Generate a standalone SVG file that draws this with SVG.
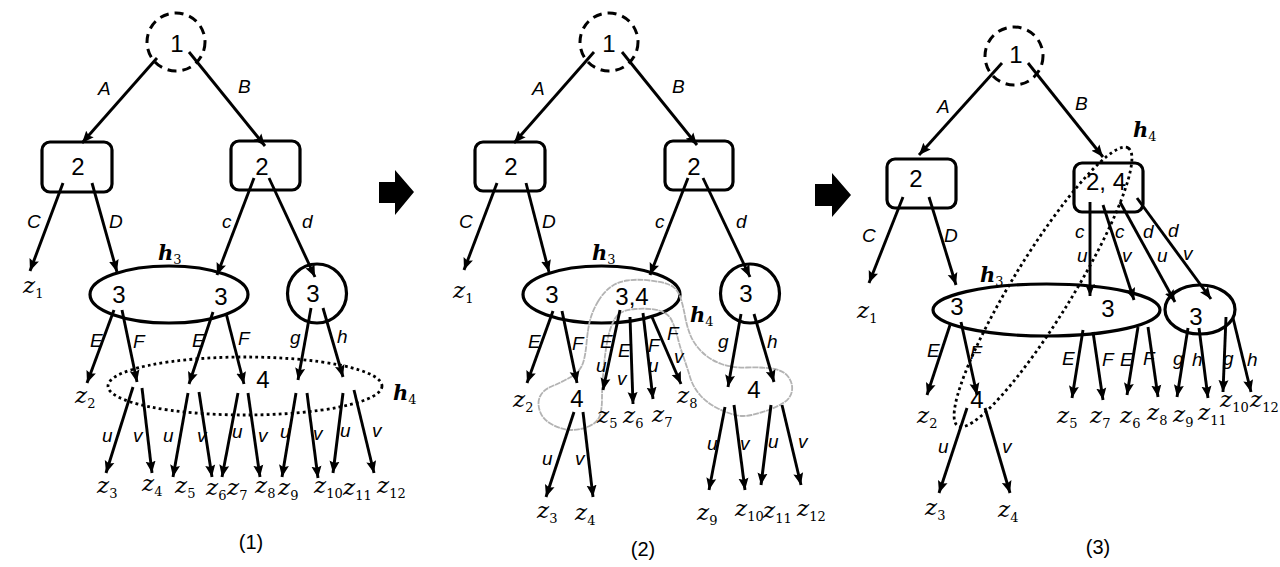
<svg xmlns="http://www.w3.org/2000/svg" width="1280" height="567" viewBox="0 0 1280 567">
<style>
.bg{fill:#fff}
.s{fill:none;stroke:#000;stroke-width:3.2}
.dash{fill:none;stroke:#000;stroke-width:3;stroke-dasharray:9 6}
.dot{fill:none;stroke:#000;stroke-width:2.8;stroke-dasharray:2.8 3.2}
.gray{fill:none;stroke:#b3b3b3;stroke-width:1.8;stroke-linejoin:round;stroke-dasharray:6 0.8}
.e line,.e{stroke:#000;stroke-width:2.9;fill:none}
.num{font-family:"Liberation Sans",Arial,sans-serif;font-size:24px;text-anchor:middle;fill:#000}
.lb{font-family:"Liberation Sans",Arial,sans-serif;font-style:italic;font-size:19px;fill:#000}
.z{font-family:"DejaVu Serif",serif;font-style:italic;font-size:23px;fill:#000}
.h{font-family:"DejaVu Serif",serif;font-style:italic;font-weight:bold;font-size:21px;fill:#000}
.sb{font-style:normal;font-weight:normal;font-size:13px}
.cap{font-family:"Liberation Sans",Arial,sans-serif;font-size:20px;text-anchor:middle;fill:#000}
</style>
<defs>
<marker id="ah" markerUnits="userSpaceOnUse" markerWidth="13" markerHeight="11" refX="12" refY="5.5" orient="auto">
<path d="M0,0.5 L12,5.5 L0,10.5 L2,5.5 Z" fill="#000"/>
</marker>
</defs>
<rect class="bg" x="0" y="0" width="1280" height="567"/>

<!-- ===== Panel 1 ===== -->
<g id="p1-n1"><circle class="dash" cx="176" cy="42" r="29"/><text class="num" x="177" y="52">1</text></g>
<g id="p1-n2a"><rect class="s" x="42" y="142" width="70" height="50" rx="8"/><text class="num" x="78" y="175">2</text></g>
<g id="p1-n2b"><rect class="s" x="231" y="141" width="69" height="49" rx="8"/><text class="num" x="262" y="175">2</text></g>
<g id="p1-n3a"><ellipse class="s" cx="169" cy="294.5" rx="79" ry="28.5"/><text class="num" x="119" y="303">3</text><text class="num" x="221" y="305">3</text></g>
<g id="p1-n3b"><circle class="s" cx="317" cy="293.5" r="29.5"/><text class="num" x="313" y="302">3</text></g>
<g id="p1-n4"><text class="num" x="263" y="388">4</text></g>
<g id="p1-h4"><ellipse class="dot" cx="245" cy="386" rx="137" ry="29"/></g>

<!-- ===== Panel 2 ===== -->
<g id="p2-n1"><circle class="dash" cx="609" cy="42" r="29"/><text class="num" x="609" y="52">1</text></g>
<g id="p2-n2a"><rect class="s" x="475" y="142" width="70" height="49" rx="8"/><text class="num" x="511" y="175">2</text></g>
<g id="p2-n2b"><rect class="s" x="665" y="141" width="68" height="49" rx="8"/><text class="num" x="694" y="175">2</text></g>
<g id="p2-n3a"><ellipse class="s" cx="601.5" cy="294.5" rx="78.5" ry="28.5"/><text class="num" x="552" y="303">3</text><text class="num" x="632" y="305">3,4</text></g>
<g id="p2-n3b"><circle class="s" cx="750" cy="293.5" r="29.5"/><text class="num" x="746" y="302">3</text></g>
<g id="p2-n4a"><text class="num" x="577" y="407">4</text></g>
<g id="p2-n4b"><text class="num" x="754" y="398">4</text></g>
<g id="p2-h4"><path class="gray" d="M598,301.5 Q603,293 610,287.5 Q617,282 627,280.5 Q637,279 650,280.5 Q663,282 670,285 Q677,288 680,296.5 Q683,305 685,316 Q687,327 690.5,335.5 Q694,344 702,352 Q710,360 721.5,364 Q733,368 746.5,367.5 Q760,367 771.5,368.5 Q783,370 788,376.5 Q793,383 792,390.5 Q791,398 784,402.5 Q777,407 768.5,410 Q760,413 751.5,415 Q743,417 735,415 Q727,413 717,408 Q707,403 700,395 Q693,387 690,377 Q687,367 683.5,357 Q680,347 677.5,337 Q675,327 671.5,320 Q668,313 659,310.5 Q650,308 635,309 Q620,310 615,318.5 Q610,327 607.5,340 Q605,353 603.5,370 Q602,387 602,398.5 Q602,410 599.5,416.5 Q597,423 588.5,426.5 Q580,430 571.5,430 Q563,430 553,425 Q543,420 540,411.5 Q537,403 540,396.5 Q543,390 551.5,386.5 Q560,383 569,378 Q578,373 581.5,366.5 Q585,360 586.5,343.5 Q588,327 590.5,318.5 Q593,310 598,301.5 Z"/></g>

<!-- ===== Panel 3 ===== -->
<g id="p3-n1"><circle class="dash" cx="1014" cy="56" r="29"/><text class="num" x="1016" y="63">1</text></g>
<g id="p3-n2a"><rect class="s" x="887" y="159" width="69" height="49" rx="8"/><text class="num" x="916" y="187">2</text></g>
<g id="p3-n24"><rect class="s" x="1074" y="163" width="69" height="49" rx="8"/><text class="num" x="1106" y="190">2, 4</text></g>
<g id="p3-n3a"><ellipse class="s" cx="1046.5" cy="310" rx="113.5" ry="26"/><text class="num" x="957" y="315">3</text><text class="num" x="1108" y="317">3</text></g>
<g id="p3-n3b"><ellipse class="s" cx="1200" cy="309.5" rx="35" ry="24.5"/><text class="num" x="1196" y="325">3</text></g>
<g id="p3-n4"><text class="num" x="977" y="408">4</text></g>
<g id="p3-h4"><ellipse class="dot" cx="1043" cy="287" rx="163" ry="30" transform="rotate(-58.5 1043 287)"/></g>

<!-- block arrows -->
<g id="step-arrows">
<polygon points="379,182 395,182 395,170 414,192 395,215 395,203 379,203" fill="#000"/>
<polygon points="815,184 832,184 832,173 851,195 832,217 832,206 815,206" fill="#000"/>
</g>

<!-- ===== Connectors ===== -->
<g id="connectors" class="e">
<!-- panel 1 -->
<line x1="157" y1="58" x2="82" y2="143" marker-end="url(#ah)"/>
<line x1="189" y1="52" x2="265" y2="146" marker-end="url(#ah)"/>
<line x1="63" y1="183" x2="30" y2="271" marker-end="url(#ah)"/>
<line x1="92" y1="183" x2="117" y2="272" marker-end="url(#ah)"/>
<line x1="254" y1="178" x2="217" y2="275" marker-end="url(#ah)"/>
<line x1="269" y1="178" x2="315" y2="277" marker-end="url(#ah)"/>
<line x1="114" y1="310" x2="87" y2="383" marker-end="url(#ah)"/>
<line x1="122" y1="310" x2="137" y2="382" marker-end="url(#ah)"/>
<line x1="213" y1="312" x2="189" y2="384" marker-end="url(#ah)"/>
<line x1="226" y1="313" x2="244" y2="384" marker-end="url(#ah)"/>
<line x1="311" y1="308" x2="298" y2="380" marker-end="url(#ah)"/>
<line x1="323" y1="308" x2="343" y2="377" marker-end="url(#ah)"/>
<line x1="133" y1="387" x2="106" y2="473" marker-end="url(#ah)"/>
<line x1="142" y1="388" x2="152" y2="473" marker-end="url(#ah)"/>
<line x1="188" y1="393" x2="173" y2="477" marker-end="url(#ah)"/>
<line x1="199" y1="392" x2="212" y2="477" marker-end="url(#ah)"/>
<line x1="238" y1="393" x2="222" y2="477" marker-end="url(#ah)"/>
<line x1="248" y1="393" x2="260" y2="477" marker-end="url(#ah)"/>
<line x1="296" y1="393" x2="282" y2="477" marker-end="url(#ah)"/>
<line x1="307" y1="393" x2="318" y2="478" marker-end="url(#ah)"/>
<line x1="343" y1="393" x2="333" y2="473" marker-end="url(#ah)"/>
<line x1="354" y1="390" x2="374" y2="473" marker-end="url(#ah)"/>
<!-- panel 2 -->
<line x1="594" y1="52" x2="514" y2="143" marker-end="url(#ah)"/>
<line x1="622" y1="52" x2="697" y2="145" marker-end="url(#ah)"/>
<line x1="497" y1="183" x2="464" y2="270" marker-end="url(#ah)"/>
<line x1="526" y1="183" x2="549" y2="272" marker-end="url(#ah)"/>
<line x1="688" y1="178" x2="650" y2="275" marker-end="url(#ah)"/>
<line x1="703" y1="178" x2="750" y2="277" marker-end="url(#ah)"/>
<line x1="553" y1="311" x2="527" y2="383" marker-end="url(#ah)"/>
<line x1="562" y1="311" x2="577" y2="383" marker-end="url(#ah)"/>
<line x1="620" y1="310" x2="603" y2="390" marker-end="url(#ah)"/>
<line x1="630" y1="317" x2="633" y2="404" marker-end="url(#ah)"/>
<line x1="643" y1="313" x2="653" y2="399" marker-end="url(#ah)"/>
<line x1="652" y1="317" x2="681" y2="384" marker-end="url(#ah)"/>
<line x1="741" y1="314" x2="728" y2="387" marker-end="url(#ah)"/>
<line x1="754" y1="314" x2="774" y2="382" marker-end="url(#ah)"/>
<line x1="574" y1="412" x2="546" y2="497" marker-end="url(#ah)"/>
<line x1="583" y1="412" x2="593" y2="497" marker-end="url(#ah)"/>
<line x1="725" y1="407" x2="709" y2="490" marker-end="url(#ah)"/>
<line x1="734" y1="405" x2="745" y2="490" marker-end="url(#ah)"/>
<line x1="771" y1="405" x2="761" y2="485" marker-end="url(#ah)"/>
<line x1="782" y1="405" x2="801" y2="485" marker-end="url(#ah)"/>
<!-- panel 3 -->
<line x1="1002" y1="63" x2="919" y2="155" marker-end="url(#ah)"/>
<line x1="1028" y1="63" x2="1103" y2="157" marker-end="url(#ah)"/>
<line x1="903" y1="197" x2="869" y2="283" marker-end="url(#ah)"/>
<line x1="929" y1="197" x2="956" y2="285" marker-end="url(#ah)"/>
<line x1="1090" y1="202" x2="1090" y2="296" marker-end="url(#ah)"/>
<line x1="1103" y1="205" x2="1134" y2="300" marker-end="url(#ah)"/>
<line x1="1120" y1="202" x2="1175" y2="302" marker-end="url(#ah)"/>
<line x1="1137" y1="198" x2="1211" y2="299" marker-end="url(#ah)"/>
<line x1="950" y1="325" x2="927" y2="395" marker-end="url(#ah)"/>
<line x1="961" y1="322" x2="977" y2="395" marker-end="url(#ah)"/>
<line x1="967" y1="408" x2="939" y2="493" marker-end="url(#ah)"/>
<line x1="985" y1="408" x2="1010" y2="493" marker-end="url(#ah)"/>
<line x1="1083" y1="330" x2="1072" y2="398" marker-end="url(#ah)"/>
<line x1="1093" y1="332" x2="1103" y2="400" marker-end="url(#ah)"/>
<line x1="1138" y1="327" x2="1127" y2="395" marker-end="url(#ah)"/>
<line x1="1148" y1="327" x2="1158" y2="397" marker-end="url(#ah)"/>
<line x1="1188" y1="328" x2="1177" y2="397" marker-end="url(#ah)"/>
<line x1="1199" y1="328" x2="1208" y2="398" marker-end="url(#ah)"/>
<line x1="1226" y1="317" x2="1223" y2="392" marker-end="url(#ah)"/>
<line x1="1233" y1="318" x2="1251" y2="392" marker-end="url(#ah)"/>
</g>

<!-- edge labels -->
<g id="edge-labels" class="lb">
<text x="98" y="95">A</text><text x="238" y="93">B</text>
<text x="27" y="228">C</text><text x="109" y="228">D</text>
<text x="222" y="228">c</text><text x="302" y="228">d</text>
<text x="90" y="347">E</text><text x="133" y="348">F</text>
<text x="192" y="347">E</text><text x="238" y="345">F</text>
<text x="290" y="344">g</text><text x="337" y="343">h</text>
<text x="102" y="442">u</text><text x="133" y="442">v</text>
<text x="163" y="442">u</text><text x="197" y="442">v</text>
<text x="232" y="438">u</text><text x="258" y="442">v</text>
<text x="280" y="438">u</text><text x="313" y="440">v</text>
<text x="340" y="437">u</text><text x="372" y="437">v</text>

<text x="532" y="95">A</text><text x="672" y="93">B</text>
<text x="459" y="228">C</text><text x="542" y="228">D</text>
<text x="655" y="228">c</text><text x="736" y="228">d</text>
<text x="528" y="348">E</text><text x="572" y="350">F</text>
<text x="600" y="348">E</text><text x="618" y="357">E</text>
<text x="648" y="352">F</text><text x="667" y="340">F</text>
<text x="596" y="372">u</text><text x="617" y="385">v</text>
<text x="648" y="372">u</text><text x="674" y="363">v</text>
<text x="718" y="348">g</text><text x="767" y="348">h</text>
<text x="542" y="465">u</text><text x="575" y="465">v</text>
<text x="707" y="450">u</text><text x="740" y="450">v</text>
<text x="768" y="448">u</text><text x="798" y="448">v</text>

<text x="937" y="113">A</text><text x="1075" y="110">B</text>
<text x="862" y="242">C</text><text x="944" y="242">D</text>
<text x="1075" y="238">c</text><text x="1077" y="262">u</text>
<text x="1115" y="238">c</text><text x="1122" y="262">v</text>
<text x="1143" y="238">d</text><text x="1157" y="262">u</text>
<text x="1168" y="237">d</text><text x="1183" y="260">v</text>
<text x="927" y="357">E</text><text x="970" y="359">F</text>
<text x="938" y="453">u</text><text x="1002" y="453">v</text>
<text x="1062" y="365">E</text><text x="1102" y="366">F</text>
<text x="1120" y="366">E</text><text x="1143" y="365">F</text>
<text x="1173" y="365">g</text><text x="1192" y="366">h</text>
<text x="1223" y="365">g</text><text x="1247" y="366">h</text>
</g>

<!-- hyperedge labels -->
<g id="h-labels" class="h">
<text x="158" y="260">h<tspan class="sb" dy="4">3</tspan></text>
<text x="393" y="400">h<tspan class="sb" dy="4">4</tspan></text>
<text x="592" y="260">h<tspan class="sb" dy="4">3</tspan></text>
<text x="690" y="322">h<tspan class="sb" dy="4">4</tspan></text>
<text x="980" y="282">h<tspan class="sb" dy="4">3</tspan></text>
<text x="1133" y="137">h<tspan class="sb" dy="4">4</tspan></text>
</g>

<!-- leaf labels -->
<g id="leaves" class="z">
<text x="23" y="293">z<tspan class="sb" dy="5">1</tspan></text>
<text x="75" y="403">z<tspan class="sb" dy="5">2</tspan></text>
<text x="97" y="493">z<tspan class="sb" dy="5">3</tspan></text>
<text x="142" y="491">z<tspan class="sb" dy="5">4</tspan></text>
<text x="175" y="493">z<tspan class="sb" dy="5">5</tspan></text>
<text x="206" y="495">z<tspan class="sb" dy="5">6</tspan></text>
<text x="227" y="495">z<tspan class="sb" dy="5">7</tspan></text>
<text x="255" y="493">z<tspan class="sb" dy="5">8</tspan></text>
<text x="278" y="495">z<tspan class="sb" dy="5">9</tspan></text>
<text x="314" y="493">z<tspan class="sb" dy="5">10</tspan></text>
<text x="343" y="495">z<tspan class="sb" dy="5">11</tspan></text>
<text x="377" y="493">z<tspan class="sb" dy="5">12</tspan></text>

<text x="453" y="298">z<tspan class="sb" dy="5">1</tspan></text>
<text x="513" y="407">z<tspan class="sb" dy="5">2</tspan></text>
<text x="597" y="423">z<tspan class="sb" dy="5">5</tspan></text>
<text x="623" y="423">z<tspan class="sb" dy="5">6</tspan></text>
<text x="652" y="422">z<tspan class="sb" dy="5">7</tspan></text>
<text x="677" y="403">z<tspan class="sb" dy="5">8</tspan></text>
<text x="537" y="518">z<tspan class="sb" dy="5">3</tspan></text>
<text x="575" y="520">z<tspan class="sb" dy="5">4</tspan></text>
<text x="697" y="520">z<tspan class="sb" dy="5">9</tspan></text>
<text x="735" y="516">z<tspan class="sb" dy="5">10</tspan></text>
<text x="763" y="518">z<tspan class="sb" dy="5">11</tspan></text>
<text x="797" y="516">z<tspan class="sb" dy="5">12</tspan></text>

<text x="857" y="318">z<tspan class="sb" dy="5">1</tspan></text>
<text x="917" y="423">z<tspan class="sb" dy="5">2</tspan></text>
<text x="925" y="515">z<tspan class="sb" dy="5">3</tspan></text>
<text x="998" y="517">z<tspan class="sb" dy="5">4</tspan></text>
<text x="1057" y="423">z<tspan class="sb" dy="5">5</tspan></text>
<text x="1090" y="423">z<tspan class="sb" dy="5">7</tspan></text>
<text x="1120" y="423">z<tspan class="sb" dy="5">6</tspan></text>
<text x="1147" y="420">z<tspan class="sb" dy="5">8</tspan></text>
<text x="1173" y="422">z<tspan class="sb" dy="5">9</tspan></text>
<text x="1198" y="420">z<tspan class="sb" dy="5">11</tspan></text>
<text x="1220" y="407">z<tspan class="sb" dy="5">10</tspan></text>
<text x="1250" y="407">z<tspan class="sb" dy="5">12</tspan></text>
</g>

<g id="captions" class="cap">
<text x="251" y="549">(1)</text>
<text x="643" y="556">(2)</text>
<text x="1098" y="554">(3)</text>
</g>
</svg>
